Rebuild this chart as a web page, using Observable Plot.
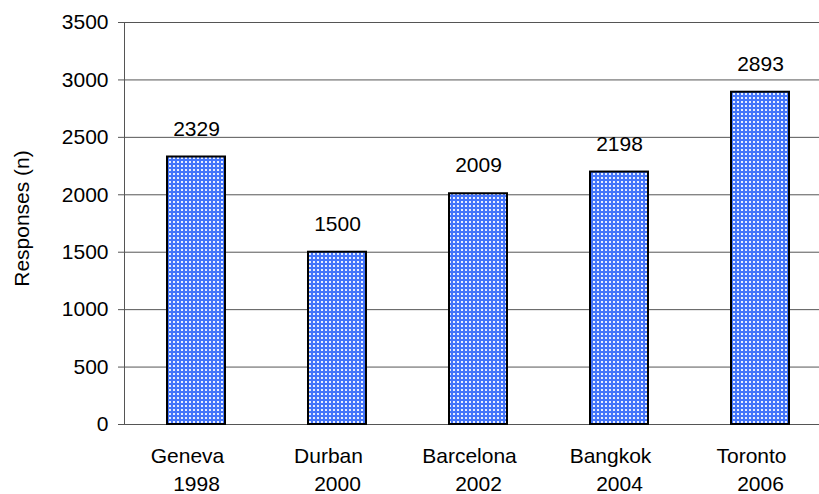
<!DOCTYPE html>
<html>
<head>
<meta charset="utf-8">
<script src="https://cdn.jsdelivr.net/npm/d3@7"></script>
<script src="https://cdn.jsdelivr.net/npm/@observablehq/plot@0.6"></script>
<style>
  html, body { margin: 0; padding: 0; background: #fff; }
</style>
</head>
<body>
<div id="chart"></div>
<script>
// Conference survey responses by host city and year
const cities = ["Geneva", "Durban", "Barcelona", "Bangkok", "Toronto"];
const years = ["1998", "2000", "2002", "2004", "2006"];
const responses = [2329, 1500, 2009, 2198, 2893];
const yTicks = [0, 500, 1000, 1500, 2000, 2500, 3000, 3500];

const rows = cities.map((city, i) => ({ city, year: years[i], n: responses[i] }));

const font = "'Liberation Sans', Arial, sans-serif";

const chart = Plot.plot({
  width: 819,
  height: 494,
  marginTop: 22,
  marginBottom: 70,
  marginLeft: 124,
  marginRight: 0,
  style: { fontFamily: font, fontSize: "21px", color: "#000", background: "#fff", overflow: "hidden" },
  x: { domain: cities, range: [125.5, 830.5], paddingInner: 0.59, paddingOuter: 0.295, axis: null },
  y: { domain: [0, 3500], ticks: yTicks },
  marks: [
    // horizontal gridlines
    Plot.ruleY(yTicks, { stroke: "#555", strokeWidth: 1 }),
    // y axis with outward ticks
    Plot.axisY({ ticks: yTicks, tickFormat: d => String(d), tickSize: 6, tickPadding: 10,
                 stroke: "#555", fill: "#000", fontSize: 21, label: null }),
    Plot.frame({ anchor: "left", stroke: "#555", strokeWidth: 1 }),
    // bars with dotted fill
    Plot.barY(rows, { x: "city", y: "n", fill: "url(#dots)", stroke: "#000", strokeWidth: 2 }),
    // value labels above bars
    Plot.text(rows, { x: "city", y: "n", text: d => String(d.n), dy: -28, fontSize: 21, fill: "#000" }),
    // two-line category labels: city, then year
    Plot.text(rows, { x: "city", y: () => 0, text: "city", dy: 32, dx: -9, fontSize: 21, fill: "#000" }),
    Plot.text(rows, { x: "city", y: () => 0, text: "year", dy: 60, fontSize: 21, fill: "#000" }),
    // axis title
    Plot.text(["Responses (n)"], { frameAnchor: "left", textAnchor: "middle", rotate: -90,
                                    dx: -102, dy: -5, fontSize: 21, fill: "#000" })
  ]
});

// dotted blue pattern used for the bar fill
const defs = d3.select(chart).insert("defs", ":first-child");
const pat = defs.append("pattern")
  .attr("id", "dots")
  .attr("patternUnits", "userSpaceOnUse")
  .attr("width", 4)
  .attr("height", 4);
pat.append("rect").attr("width", 4).attr("height", 4).attr("fill", "#4475fa");
pat.append("rect").attr("x", 1).attr("y", 1).attr("width", 2).attr("height", 2).attr("fill", "#e8eeff");

document.getElementById("chart").appendChild(chart);
</script>
</body>
</html>
